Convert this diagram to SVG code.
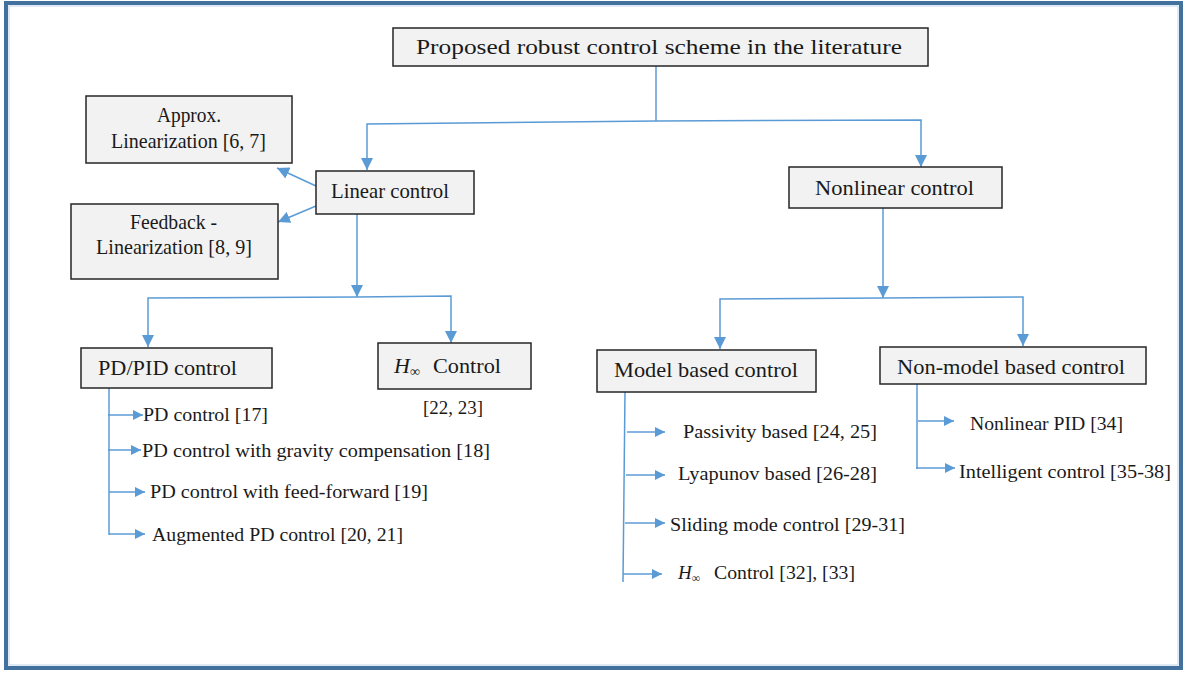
<svg xmlns="http://www.w3.org/2000/svg" width="1189" height="673" viewBox="0 0 1189 673">
  <style>
    .box { fill: #f2f2f2; stroke: #262626; stroke-width: 1.5; }
    .lbl { font-family: "Liberation Serif", "Times New Roman", serif; fill: #1a1a1a; }
    .big { font-size: 21px; }
    .small { font-size: 18px; }
    .conn { fill: none; stroke: #5b9bd5; stroke-width: 1.5; }
    .ar { marker-end: url(#arrow); }
    .ars { marker-end: url(#arrowSmall); }
  </style>
  <defs>
    <marker id="arrow" markerUnits="userSpaceOnUse" markerWidth="12" markerHeight="12" viewBox="0 0 12 12" refX="12" refY="6" orient="auto">
      <path d="M0,0 L12,6 L0,12 Z" fill="#5b9bd5"/>
    </marker>
    <marker id="arrowSmall" markerUnits="userSpaceOnUse" markerWidth="10" markerHeight="10" viewBox="0 0 10 10" refX="10" refY="5" orient="auto">
      <path d="M0,0 L10,5 L0,10 Z" fill="#5b9bd5"/>
    </marker>
  </defs>

  <!-- outer frame -->
  <rect x="0" y="0" width="1189" height="673" fill="#ffffff"/>
  <rect x="6" y="3" width="1175" height="665" fill="none" stroke="#41719c" stroke-width="4"/>
  <rect x="9" y="6" width="1169" height="659" fill="none" stroke="#bdd7ee" stroke-width="1"/>

  <!-- connectors -->
  <g id="connectors">
    <!-- root split -->
    <path class="conn" d="M656,66 L656,121"/>
    <path class="conn ar" d="M656,121 L367,124 L367,170"/>
    <path class="conn ar" d="M656,121 L921,120 L921,167"/>
    <!-- linear control side branches -->
    <path class="conn ar" d="M316,186 L277,168"/>
    <path class="conn ar" d="M316,206 L278,222"/>
    <!-- linear control split -->
    <path class="conn ar" d="M357,214 L357,297"/>
    <path class="conn ar" d="M357,297 L148,298 L148,347"/>
    <path class="conn ar" d="M357,297 L451,296 L451,343"/>
    <!-- PD/PID list -->
    <path class="conn" d="M109,388 L109,535"/>
    <path class="conn ars" d="M108,415 L143,415"/>
    <path class="conn ars" d="M108,450 L141,450"/>
    <path class="conn ars" d="M109,492 L145,492"/>
    <path class="conn ars" d="M109,534 L145,534"/>
    <!-- nonlinear control split -->
    <path class="conn ar" d="M883,208 L883,298"/>
    <path class="conn ar" d="M883,298 L720,299 L720,349"/>
    <path class="conn ar" d="M883,298 L1023,297 L1023,346"/>
    <!-- model based list -->
    <path class="conn" d="M625,392 L623,582"/>
    <path class="conn ars" d="M627,432 L665,432"/>
    <path class="conn ars" d="M626,475 L665,475"/>
    <path class="conn ars" d="M625,523 L665,523"/>
    <path class="conn ars" d="M623,574 L662,574"/>
    <!-- non-model based list -->
    <path class="conn" d="M917,384 L917,469"/>
    <path class="conn ars" d="M918,421 L954,421"/>
    <path class="conn ars" d="M916,468 L955,468"/>
  </g>

  <!-- nodes -->
  <g id="root">
    <rect class="box" x="393" y="28" width="535" height="38"/>
    <text class="lbl" x="416" y="54" font-size="22" textLength="486" lengthAdjust="spacingAndGlyphs">Proposed robust control scheme in the literature</text>
  </g>

  <g id="approx-linearization">
    <rect class="box" x="86" y="96" width="206" height="67"/>
    <text class="lbl big" x="157" y="122" textLength="64" lengthAdjust="spacingAndGlyphs">Approx.</text>
    <text class="lbl big" x="111" y="148" textLength="155" lengthAdjust="spacingAndGlyphs">Linearization [6, 7]</text>
  </g>

  <g id="linear-control">
    <rect class="box" x="316" y="171" width="158" height="43"/>
    <text class="lbl big" x="331" y="198" textLength="118" lengthAdjust="spacingAndGlyphs">Linear control</text>
  </g>

  <g id="feedback-linearization">
    <rect class="box" x="71" y="204" width="207" height="75"/>
    <text class="lbl big" x="130" y="229" textLength="87" lengthAdjust="spacingAndGlyphs">Feedback -</text>
    <text class="lbl big" x="96" y="254" textLength="156" lengthAdjust="spacingAndGlyphs">Linearization [8, 9]</text>
  </g>

  <g id="nonlinear-control">
    <rect class="box" x="789" y="167" width="213" height="41"/>
    <text class="lbl big" x="815" y="195" textLength="159" lengthAdjust="spacingAndGlyphs">Nonlinear control</text>
  </g>

  <g id="pd-pid-control">
    <rect class="box" x="81" y="348" width="191" height="40"/>
    <text class="lbl big" x="98" y="375" textLength="139" lengthAdjust="spacingAndGlyphs">PD/PID control</text>
    <text class="lbl small" x="143" y="421" textLength="125" lengthAdjust="spacingAndGlyphs">PD control [17]</text>
    <text class="lbl small" x="142" y="457" textLength="348" lengthAdjust="spacingAndGlyphs">PD control with gravity compensation [18]</text>
    <text class="lbl small" x="150" y="498" textLength="278" lengthAdjust="spacingAndGlyphs">PD control with feed-forward [19]</text>
    <text class="lbl small" x="152" y="541" textLength="251" lengthAdjust="spacingAndGlyphs">Augmented PD control [20, 21]</text>
  </g>

  <g id="h-infinity-control">
    <rect class="box" x="378" y="343" width="153" height="46"/>
    <text class="lbl" x="394" y="373" font-size="22"><tspan font-style="italic">H</tspan><tspan font-size="14" dy="3">∞</tspan></text>
    <text class="lbl big" x="433" y="373" textLength="68" lengthAdjust="spacingAndGlyphs">Control</text>
    <text class="lbl small" x="423" y="414" textLength="60" lengthAdjust="spacingAndGlyphs">[22, 23]</text>
  </g>

  <g id="model-based-control">
    <rect class="box" x="597" y="350" width="219" height="42"/>
    <text class="lbl big" x="614" y="377" textLength="184" lengthAdjust="spacingAndGlyphs">Model based control</text>
    <text class="lbl small" x="683" y="438" textLength="194" lengthAdjust="spacingAndGlyphs">Passivity based [24, 25]</text>
    <text class="lbl small" x="678" y="480" textLength="199" lengthAdjust="spacingAndGlyphs">Lyapunov based [26-28]</text>
    <text class="lbl small" x="670" y="531" textLength="235" lengthAdjust="spacingAndGlyphs">Sliding mode control [29-31]</text>
    <text class="lbl" x="678" y="579" font-size="19"><tspan font-style="italic">H</tspan><tspan font-size="12" dy="3">∞</tspan></text>
    <text class="lbl small" x="714" y="579" textLength="141" lengthAdjust="spacingAndGlyphs">Control [32], [33]</text>
  </g>

  <g id="non-model-based-control">
    <rect class="box" x="880" y="347" width="266" height="37"/>
    <text class="lbl big" x="897" y="374" textLength="228" lengthAdjust="spacingAndGlyphs">Non-model based control</text>
    <text class="lbl small" x="970" y="430" textLength="153" lengthAdjust="spacingAndGlyphs">Nonlinear PID [34]</text>
    <text class="lbl small" x="959" y="478" textLength="212" lengthAdjust="spacingAndGlyphs">Intelligent control [35-38]</text>
  </g>
</svg>
